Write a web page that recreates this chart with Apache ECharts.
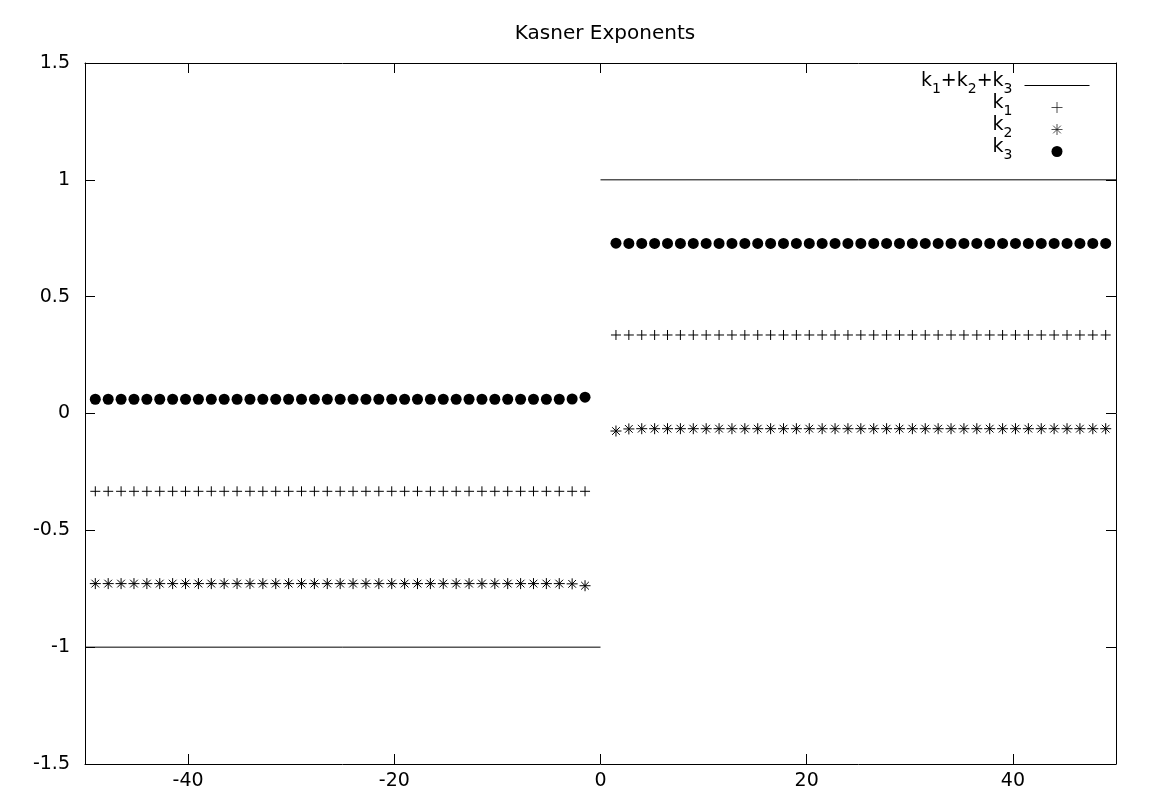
<!DOCTYPE html>
<html>
<head>
<meta charset="utf-8">
<script src="https://cdn.jsdelivr.net/npm/echarts@6/dist/echarts.min.js"></script>
<style>
html,body{margin:0;padding:0;background:#fff;}
#chart{width:1155px;height:805px;}
</style>
</head>
<body>
<div id="chart"></div>
<script>
// ---- data ----
const titleText = 'Kasner Exponents';
const xTicks = [-40, -20, 0, 20, 40];
const yTicks = [-1.5, -1, -0.5, 0, 0.5, 1, 1.5];

const xLeft = [-49, -47.75, -46.5, -45.25, -44, -42.75, -41.5, -40.25, -39, -37.75, -36.5, -35.25, -34, -32.75, -31.5, -30.25, -29, -27.75, -26.5, -25.25, -24, -22.75, -21.5, -20.25, -19, -17.75, -16.5, -15.25, -14, -12.75, -11.5, -10.25, -9, -7.75, -6.5, -5.25, -4, -2.75, -1.5];
const xRight = [1.5, 2.75, 4, 5.25, 6.5, 7.75, 9, 10.25, 11.5, 12.75, 14, 15.25, 16.5, 17.75, 19, 20.25, 21.5, 22.75, 24, 25.25, 26.5, 27.75, 29, 30.25, 31.5, 32.75, 34, 35.25, 36.5, 37.75, 39, 40.25, 41.5, 42.75, 44, 45.25, 46.5, 47.75, 49];

const k1Left = [-0.333, -0.333, -0.333, -0.333, -0.333, -0.333, -0.333, -0.333, -0.333, -0.333, -0.333, -0.333, -0.333, -0.333, -0.333, -0.333, -0.333, -0.333, -0.333, -0.333, -0.333, -0.333, -0.333, -0.333, -0.333, -0.333, -0.333, -0.333, -0.333, -0.333, -0.333, -0.333, -0.333, -0.333, -0.333, -0.333, -0.333, -0.333, -0.333];
const k2Left = [-0.728, -0.728, -0.728, -0.728, -0.728, -0.728, -0.728, -0.728, -0.728, -0.728, -0.728, -0.728, -0.728, -0.728, -0.728, -0.728, -0.728, -0.728, -0.728, -0.728, -0.728, -0.728, -0.728, -0.728, -0.728, -0.728, -0.728, -0.728, -0.728, -0.728, -0.728, -0.728, -0.728, -0.728, -0.728, -0.728, -0.728, -0.729, -0.737];
const k3Left = [0.061, 0.061, 0.061, 0.061, 0.061, 0.061, 0.061, 0.061, 0.061, 0.061, 0.061, 0.061, 0.061, 0.061, 0.061, 0.061, 0.061, 0.061, 0.061, 0.061, 0.061, 0.061, 0.061, 0.061, 0.061, 0.061, 0.061, 0.061, 0.061, 0.061, 0.061, 0.061, 0.061, 0.061, 0.061, 0.061, 0.061, 0.062, 0.070];

const k1Right = [0.336, 0.336, 0.336, 0.336, 0.336, 0.336, 0.336, 0.336, 0.336, 0.336, 0.336, 0.336, 0.336, 0.336, 0.336, 0.336, 0.336, 0.336, 0.336, 0.336, 0.336, 0.336, 0.336, 0.336, 0.336, 0.336, 0.336, 0.336, 0.336, 0.336, 0.336, 0.336, 0.336, 0.336, 0.336, 0.336, 0.336, 0.336, 0.336];
const k2Right = [-0.075, -0.066, -0.065, -0.065, -0.065, -0.065, -0.065, -0.065, -0.065, -0.065, -0.065, -0.065, -0.065, -0.065, -0.065, -0.065, -0.065, -0.065, -0.065, -0.065, -0.065, -0.065, -0.065, -0.065, -0.065, -0.065, -0.065, -0.065, -0.065, -0.065, -0.065, -0.065, -0.065, -0.065, -0.065, -0.065, -0.065, -0.065, -0.065];
const k3Right = [0.729, 0.728, 0.728, 0.728, 0.728, 0.728, 0.728, 0.728, 0.728, 0.728, 0.728, 0.728, 0.728, 0.728, 0.728, 0.728, 0.728, 0.728, 0.728, 0.728, 0.728, 0.728, 0.728, 0.728, 0.728, 0.728, 0.728, 0.728, 0.728, 0.728, 0.728, 0.728, 0.728, 0.728, 0.728, 0.728, 0.728, 0.728, 0.728];

const sumX = [-50, 0, 0, 0, 50];
const sumY = [-1, -1, null, 1, 1];

const seriesNames = ['k1+k2+k3', 'k1', 'k2', 'k3'];
const legendRich = {
  'k1+k2+k3': '{k|k}{s|1}{k|+k}{s|2}{k|+k}{s|3}{g|}',
  'k1': '{k|k}{s|1}{g|}',
  'k2': '{k|k}{s|2}{g|}',
  'k3': '{k|k}{s|3}{g|}'
};

// ---- build ----
function zip(xs, ys) { return xs.map((x, i) => [x, ys[i]]); }
const FONT = '"DejaVu Sans", "Liberation Sans", Arial, sans-serif';
const PLUS = 'path://M0,5 L10,5 M5,0 L5,10';
const STAR = 'path://M0,5 L10,5 M5,0 L5,10 M1.5,1.5 L8.5,8.5 M1.5,8.5 L8.5,1.5';

const chart = echarts.init(document.getElementById('chart'), null, {renderer: 'canvas'});
const axisLine = {show: true, onZero: false, lineStyle: {color: '#000', width: 1}};
const legendSym = {borderColor: '#222', borderWidth: 0.8};
const option = {
  backgroundColor: '#fff',
  animation: false,
  title: {
    text: titleText, left: 600, top: 19, textAlign: 'center',
    textStyle: {fontFamily: FONT, fontSize: 20, fontWeight: 'normal', color: '#000'}
  },
  legend: {
    data: [
      {name: 'k1+k2+k3', itemStyle: {color: 'rgba(0,0,0,0)', borderColor: 'rgba(0,0,0,0)', borderWidth: 0},
       lineStyle: {width: 1, color: '#000'}},
      {name: 'k1', itemStyle: legendSym},
      {name: 'k2', itemStyle: legendSym},
      {name: 'k3'}
    ],
    orient: 'vertical', right: 65, top: 72, padding: 0,
    align: 'right', itemGap: -5, itemWidth: 65, itemHeight: 11,
    formatter: n => legendRich[n],
    textStyle: {
      color: '#000', fontFamily: FONT, fontSize: 19,
      rich: {
        k: {fontFamily: FONT, fontSize: 19, lineHeight: 20, color: '#000', padding: [0, 0, 8, 0]},
        s: {fontFamily: FONT, fontSize: 14, lineHeight: 14, color: '#000', padding: [7, 0, 0, 0]},
        g: {width: 7}
      }
    }
  },
  grid: {left: 85, right: 39, top: 63, bottom: 41, containLabel: false},
  xAxis: [
    {type: 'value', position: 'bottom', min: -50, max: 50,
     axisLine: axisLine,
     axisTick: {show: true, inside: true, length: 10, customValues: xTicks, lineStyle: {color: '#000'}},
     axisLabel: {show: true, margin: 8, customValues: xTicks, color: '#000', fontFamily: FONT, fontSize: 19},
     splitLine: {show: false}},
    {type: 'value', position: 'top', min: -50, max: 50,
     axisLine: axisLine,
     axisTick: {show: true, inside: true, length: 10, customValues: xTicks, lineStyle: {color: '#000'}},
     axisLabel: {show: false},
     splitLine: {show: false}}
  ],
  yAxis: [
    {type: 'value', position: 'left', min: -1.5, max: 1.5, interval: 0.5,
     axisLine: axisLine,
     axisTick: {show: true, inside: true, length: 10, lineStyle: {color: '#000'}},
     axisLabel: {show: true, margin: 15, color: '#000', fontFamily: FONT, fontSize: 19},
     splitLine: {show: false}},
    {type: 'value', position: 'right', min: -1.5, max: 1.5, interval: 0.5,
     axisLine: axisLine,
     axisTick: {show: true, inside: true, length: 10, lineStyle: {color: '#000'}},
     axisLabel: {show: false},
     splitLine: {show: false}}
  ],
  series: [
    {name: 'k1+k2+k3', type: 'line', data: zip(sumX, sumY), symbol: 'none', showSymbol: false, connectNulls: false,
     lineStyle: {color: '#000', width: 1}, itemStyle: {color: '#000'}},
    {name: 'k1', type: 'scatter', data: zip(xLeft, k1Left).concat(zip(xRight, k1Right)),
     symbol: PLUS, symbolSize: 10,
     itemStyle: {color: 'rgba(0,0,0,0)', borderColor: '#000', borderWidth: 1, opacity: 1}},
    {name: 'k2', type: 'scatter', data: zip(xLeft, k2Left).concat(zip(xRight, k2Right)),
     symbol: STAR, symbolSize: 11,
     itemStyle: {color: 'rgba(0,0,0,0)', borderColor: '#000', borderWidth: 1, opacity: 1}},
    {name: 'k3', type: 'scatter', data: zip(xLeft, k3Left).concat(zip(xRight, k3Right)),
     symbol: 'circle', symbolSize: 11,
     itemStyle: {color: '#000', opacity: 1}}
  ]
};
chart.setOption(option);
</script>
</body>
</html>
